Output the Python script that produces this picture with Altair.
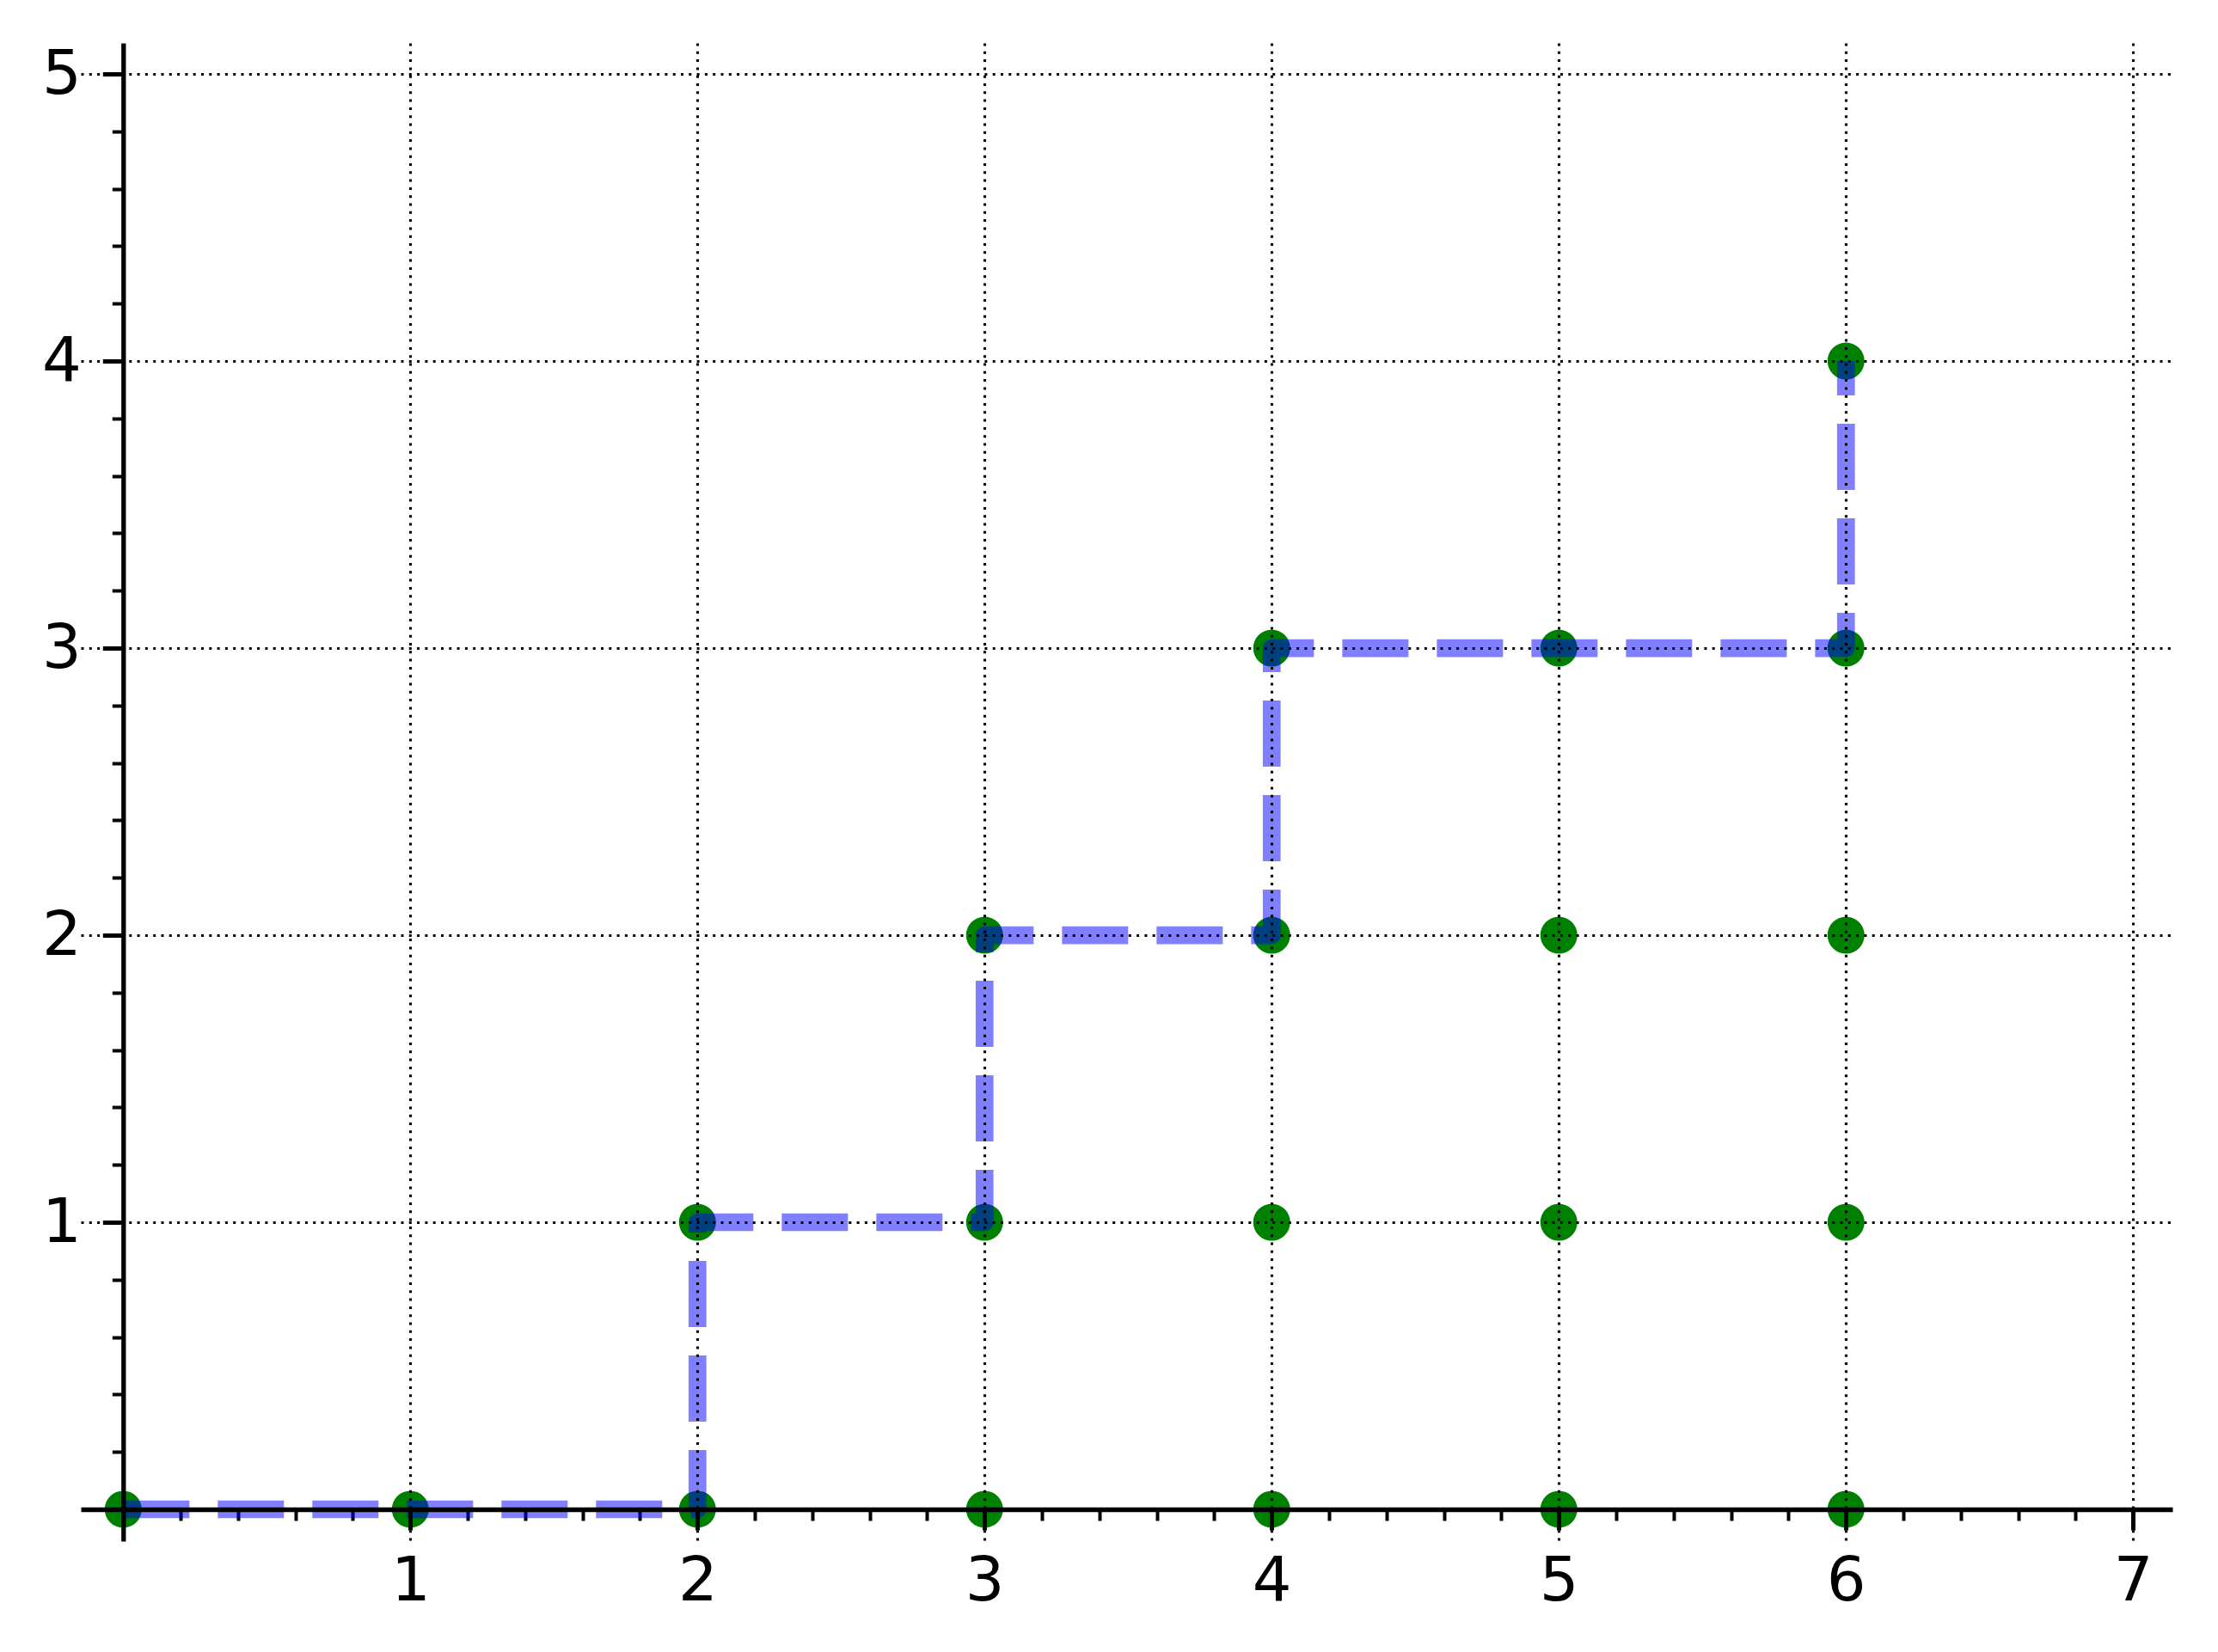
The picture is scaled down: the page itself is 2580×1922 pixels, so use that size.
import altair as alt
import pandas as pd

# Lattice points (green dots)
pts_x = [0, 1, 2, 2, 3, 3, 3, 4, 4, 4, 4, 5, 5, 5, 5, 6, 6, 6, 6, 6]
pts_y = [0, 0, 0, 1, 0, 1, 2, 0, 1, 2, 3, 0, 1, 2, 3, 0, 1, 2, 3, 4]

# Staircase path (blue dashed)
path_x = [0, 2, 2, 3, 3, 4, 4, 6, 6]
path_y = [0, 0, 1, 1, 2, 2, 3, 3, 4]

x_major = [1, 2, 3, 4, 5, 6, 7]
y_major = [1, 2, 3, 4, 5]
x_minor = [round(i * 0.2, 1) for i in range(1, 36) if i % 5]
y_minor = [round(i * 0.2, 1) for i in range(1, 26) if i % 5]

df_pts = pd.DataFrame({"x": pts_x, "y": pts_y})
df_path = pd.DataFrame({"x": path_x, "y": path_y, "i": list(range(len(path_x)))})

xscale = alt.Scale(domain=[-0.1476, 7.137], nice=False, zero=False)
yscale = alt.Scale(domain=[-0.1108, 5.108], nice=False, zero=False)

FONT = "DejaVu Sans"

common = dict(
    title=None,
    domainColor="black",
    tickColor="black",
    labelFont=FONT,
    labelFontSize=72,
    labelColor="black",
    labelFlush=False,
    labelOverlap=False,
    format="d",
)

major_x = alt.Axis(values=x_major, orient="bottom", offset=-37, grid=True,
                   gridColor="black", gridDash=[3, 6.3], gridWidth=3.1,
                   domainWidth=5.3, tickSize=24, tickWidth=5, labelPadding=24,
                   zindex=1, **common)
major_y = alt.Axis(values=y_major, orient="left", offset=-49.3, grid=True,
                   gridColor="black", gridDash=[3, 6.3], gridWidth=3.1,
                   domainWidth=5.3, tickSize=24, tickWidth=5, labelPadding=25,
                   zindex=1, **common)
minor_x = alt.Axis(values=x_minor, orient="bottom", offset=-37, grid=False,
                   domain=False, labels=False, title=None, tickColor="black",
                   tickSize=13, tickWidth=4, zindex=0)
minor_y = alt.Axis(values=y_minor, orient="left", offset=-49.3, grid=False,
                   domain=False, labels=False, title=None, tickColor="black",
                   tickSize=13, tickWidth=4, zindex=0)

points = alt.Chart(df_pts).mark_circle(size=1850, color="green", opacity=1).encode(
    x=alt.X("x:Q", scale=xscale, axis=major_x),
    y=alt.Y("y:Q", scale=yscale, axis=major_y),
)

line = alt.Chart(df_path).mark_line(
    color="blue", strokeOpacity=0.5, strokeWidth=20.7,
    strokeDash=[77, 33], strokeJoin="round",
).encode(
    x=alt.X("x:Q", scale=xscale, axis=minor_x),
    y=alt.Y("y:Q", scale=yscale, axis=minor_y),
    order="i:Q",
)

chart = alt.layer(points, line).resolve_axis(
    x="independent", y="independent"
).properties(
    width=2433,
    height=1743,
    autosize=alt.AutoSizeParams(type="none"),
    padding={"left": 86, "top": 42, "right": 45, "bottom": 120},
    background="white",
).configure_view(strokeWidth=0)

chart.save("out.html", embed_options={"renderer": "svg", "actions": False})
